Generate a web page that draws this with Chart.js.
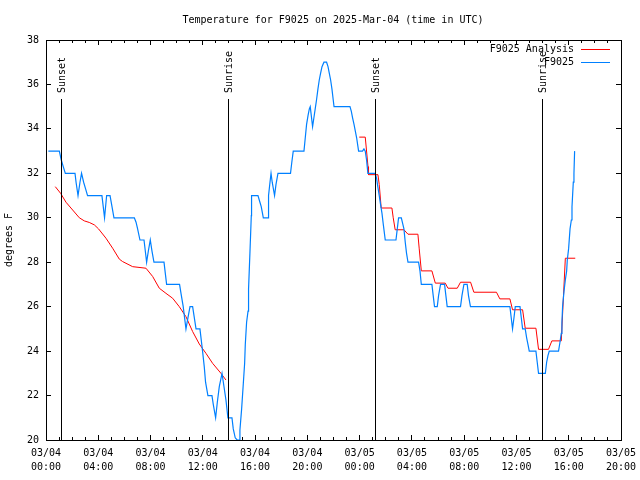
<!DOCTYPE html>
<html>
<head>
<meta charset="utf-8">
<script src="https://cdn.jsdelivr.net/npm/chart.js@4.4.1/dist/chart.umd.min.js"></script>
<style>
body { margin: 0; background: #fff; }
</style>
</head>
<body>
<canvas id="chart" width="640" height="480"></canvas>
<script>
// hours since 03/04 00:00 UTC
var obsHours = [0.18,0.94,1.02,1.17,1.32,1.48,2.22,2.30,2.45,2.60,
  2.72,2.88,3.03,3.18,4.28,4.38,4.48,4.64,4.90,5.05,
  5.20,6.76,6.89,7.01,7.19,7.50,7.70,7.83,7.98,8.11,
  8.26,9.03,9.13,9.23,10.22,10.33,10.50,10.71,10.86,11.02,
  11.22,11.48,11.78,11.98,12.11,12.21,12.39,12.70,12.80,12.98,
  13.11,13.26,13.47,13.57,13.77,13.92,14.23,14.33,14.48,14.63,
  14.79,14.84,14.97,15.10,15.20,15.25,15.35,15.46,15.50,15.61,
  15.71,15.73,16.22,16.37,16.47,16.63,16.99,17.03,17.14,17.22,
  17.31,17.49,17.60,17.75,18.71,18.81,18.92,19.74,19.84,19.94,
  20.05,20.15,20.22,20.40,20.50,20.60,20.70,20.81,20.91,21.01,
  21.12,21.27,21.47,21.58,21.68,21.78,21.88,21.98,22.04,23.26,
  23.36,23.46,23.57,23.67,23.77,23.87,23.92,24.22,24.33,24.43,
  24.53,24.63,25.19,25.29,25.39,25.50,25.60,25.71,25.81,25.96,
  26.78,26.88,26.98,27.19,27.39,27.49,27.59,27.70,28.51,28.62,
  28.72,29.53,29.63,29.73,29.94,30.04,30.19,30.50,30.60,30.70,
  31.72,31.83,31.98,32.23,32.33,32.48,35.50,35.60,35.70,35.81,
  35.91,36.27,36.37,36.47,36.67,36.78,36.88,36.98,37.49,37.59,
  37.69,38.21,38.31,38.41,38.51,39.22,39.33,39.43,39.48,39.53,
  39.64,39.74,39.84,39.89,39.99,40.10,40.20,40.25,40.35,40.40,
  40.45];
var obsTemps = [33,33,33,32.6,32.3,32,32,31.6,31,31.6,
  32,31.6,31.3,31,31,30.5,30,31,31,30.5,
  30,30,29.8,29.5,29,29,28,28.5,29,28.5,
  28,28,27.5,27,27,26.6,26,25,25.5,26,
  26,25,25,24,23.3,22.6,22,22,21.6,21,
  21.7,22.4,23,22.6,21.8,21,21,20.5,20.1,20,
  20,20.45,21.4,22.55,23.45,24.3,25.3,25.8,26.8,28.5,
  30.1,31,31,30.7,30.5,30,30,31,31.6,32,
  31.6,31,31.5,32,32,32.5,33,33,33.6,34.2,
  34.6,34.9,35,34.1,34.5,34.9,35.3,35.8,36.2,36.5,
  36.8,37,37,36.8,36.5,36.2,35.8,35.3,35,35,
  34.8,34.5,34.2,33.9,33.6,33.2,33,33,33.1,33,
  32.6,32,32,31.8,31.4,31,30.6,30.2,29.7,29,
  29,29.5,30,30,29.5,28.9,28.4,28,28,27.6,
  27,27,26.5,26,26,26.5,27,27,26.5,26,
  26,26.5,27,27,26.5,26,26,25.5,25,25.5,
  26,26,25.5,25,25,24.6,24.3,24,24,23.5,
  23,23,23.5,23.8,24,24,24.4,24.8,25.3,26,
  26.7,27.2,27.6,28.1,28.6,29.5,29.9,30.5,31.6,32,
  33];

var anaHours = [0.71,1.12,1.53,2.04,2.55,2.93,3.31,3.70,4.02,4.59,
  5.10,5.61,5.86,6.63,7.65,8.16,8.67,9.18,9.69,10.20,
  10.71,11.22,11.73,12.24,12.75,13.39,13.77,
  18.00,
  23.97,24.43,24.64,24.68,25.40,25.50,25.65,26.47,26.57,26.72,
  27.39,27.70,28.46,28.56,28.72,29.53,29.79,30.55,30.76,31.47,
  31.72,32.49,32.74,34.47,34.73,35.50,35.70,36.47,36.67,37.49,
  37.69,38.45,38.71,39.43,39.74,40.50];
var anaTemps = [31.4,31.1,30.7,30.35,30.0,29.86,29.79,29.68,29.5,29.08,
  28.63,28.14,28.03,27.8,27.73,27.36,26.83,26.6,26.38,26.0,
  25.55,24.88,24.32,23.9,23.45,23.0,22.7,
  null,
  33.63,33.63,32.3,31.94,31.94,31.5,30.44,30.44,30.0,29.46,
  29.46,29.26,29.26,28.6,27.61,27.61,27.06,27.06,26.83,26.83,
  27.1,27.1,26.65,26.65,26.35,26.35,25.86,25.86,25.03,25.03,
  24.08,24.08,24.46,24.46,28.18,28.18];

var eventHours = [1.13, 13.9, 25.15, 37.95];
var eventNames = ['Sunset', 'Sunrise', 'Sunset', 'Sunrise'];

var xTickHours = [0, 4, 8, 12, 16, 20, 24, 28, 32, 36, 40, 44];
var xTickLabels = [['03/04','00:00'],['03/04','04:00'],['03/04','08:00'],['03/04','12:00'],
  ['03/04','16:00'],['03/04','20:00'],['03/05','00:00'],['03/05','04:00'],
  ['03/05','08:00'],['03/05','12:00'],['03/05','16:00'],['03/05','20:00']];
var yTickValues = [20, 22, 24, 26, 28, 30, 32, 34, 36, 38];

var seriesNames = ['F9025 Analysis', 'F9025'];
var seriesColors = ['#ff0000', '#0080ff'];
var titleText = 'Temperature for F9025 on 2025-Mar-04 (time in UTC)';

var FONT = '"DejaVu Sans Mono", "Liberation Mono", monospace';
var X_MIN = xTickHours[0], X_MAX = xTickHours[xTickHours.length - 1];
var Y_MIN = yTickValues[0], Y_MAX = yTickValues[yTickValues.length - 1];

function toPoints(xs, ys) {
  var pts = [];
  for (var i = 0; i < xs.length; i++) {
    pts.push({ x: xs[i], y: ys[i] });
  }
  return pts;
}

// an axis that only draws the frame edge and inward tick marks
function edgeAxis(position, step, len, border, weight) {
  var horiz = position === 'top' || position === 'bottom';
  return {
    type: 'linear',
    position: position,
    weight: weight,
    min: horiz ? X_MIN : Y_MIN,
    max: horiz ? X_MAX : Y_MAX,
    grid: { display: true, drawOnChartArea: false, drawTicks: true, tickLength: -len, color: '#000', lineWidth: 1 },
    border: { display: border, color: '#000', width: 1 },
    ticks: { display: false, stepSize: step, autoSkip: false },
    afterFit: function(s) {
      if (horiz) s.height = 0; else s.width = 0;
      s.paddingLeft = 0; s.paddingRight = 0; s.paddingTop = 0; s.paddingBottom = 0;
    }
  };
}

// sunrise/sunset markers, title and key
var notesPlugin = {
  id: 'notes',
  afterDraw: function(chart) {
    var ctx = chart.ctx;
    var area = chart.chartArea;
    var xs = chart.scales.x;
    var T = Math.round(area.top), B = Math.round(area.bottom);
    ctx.save();
    ctx.fillStyle = '#000';
    ctx.font = '10px ' + FONT;
    for (var i = 0; i < eventHours.length; i++) {
      var ex = Math.round(xs.getPixelForValue(eventHours[i]));
      ctx.fillRect(ex, T + 59, 1, B - T - 59);
      ctx.save();
      ctx.translate(ex + 1, T + 53);
      ctx.rotate(-Math.PI / 2);
      ctx.textAlign = 'left';
      ctx.textBaseline = 'middle';
      ctx.fillText(eventNames[i], 0, 0);
      ctx.restore();
    }
    ctx.textAlign = 'center';
    ctx.textBaseline = 'middle';
    ctx.fillText(titleText, 333, 20);
    ctx.textAlign = 'right';
    for (var k = 0; k < seriesNames.length; k++) {
      var ly = 49 + k * 13;
      ctx.fillStyle = '#000';
      ctx.fillText(seriesNames[k], 574, ly);
      ctx.fillStyle = seriesColors[k];
      ctx.fillRect(581, ly, 29, 1);
    }
    ctx.restore();
  }
};

new Chart(document.getElementById('chart'), {
  type: 'line',
  data: {
    datasets: [
      {
        label: seriesNames[0],
        data: toPoints(anaHours, anaTemps),
        borderColor: seriesColors[0],
        borderWidth: 1,
        pointRadius: 0,
        spanGaps: false,
        order: 1
      },
      {
        label: seriesNames[1],
        data: toPoints(obsHours, obsTemps),
        borderColor: seriesColors[1],
        borderWidth: 1.2,
        pointRadius: 0,
        order: 0
      }
    ]
  },
  options: {
    responsive: false,
    animation: false,
    layout: { padding: { top: 40, right: 19, left: 0, bottom: 0 }, autoPadding: false },
    plugins: {
      legend: { display: false },
      title: { display: false },
      tooltip: { enabled: false }
    },
    scales: {
      x: {
        type: 'linear',
        position: 'bottom',
        weight: 1,
        min: X_MIN,
        max: X_MAX,
        grid: { display: true, drawOnChartArea: false, drawTicks: true, tickLength: -5, color: '#000', lineWidth: 1 },
        border: { display: true, color: '#000', width: 1 },
        ticks: {
          stepSize: 4,
          autoSkip: false,
          maxRotation: 0,
          color: '#000',
          padding: 11,
          font: { family: FONT, size: 10, lineHeight: 1.4 },
          callback: function(v) { return xTickLabels[xTickHours.indexOf(v)]; }
        },
        afterFit: function(s) { s.height = 40; s.paddingLeft = 0; s.paddingRight = 0; }
      },
      xMinor: edgeAxis('bottom', 1, 3, false, 0),
      xTop: edgeAxis('top', 4, 5, true, 1),
      xTopMinor: edgeAxis('top', 1, 3, false, 0),
      y: {
        type: 'linear',
        position: 'left',
        min: Y_MIN,
        max: Y_MAX,
        grid: { display: true, drawOnChartArea: false, drawTicks: true, tickLength: -5, color: '#000', lineWidth: 1 },
        border: { display: true, color: '#000', width: 1 },
        ticks: {
          stepSize: 2,
          color: '#000',
          padding: 12,
          font: { family: FONT, size: 10 }
        },
        title: {
          display: true,
          text: 'degrees F',
          color: '#000',
          padding: { top: 3, bottom: 0 },
          font: { family: FONT, size: 10 }
        },
        afterFit: function(s) { s.width = 46; s.paddingTop = 0; s.paddingBottom = 0; }
      },
      yRight: edgeAxis('right', 2, 5, true, 0)
    }
  },
  plugins: [notesPlugin]
});
</script>
</body>
</html>
